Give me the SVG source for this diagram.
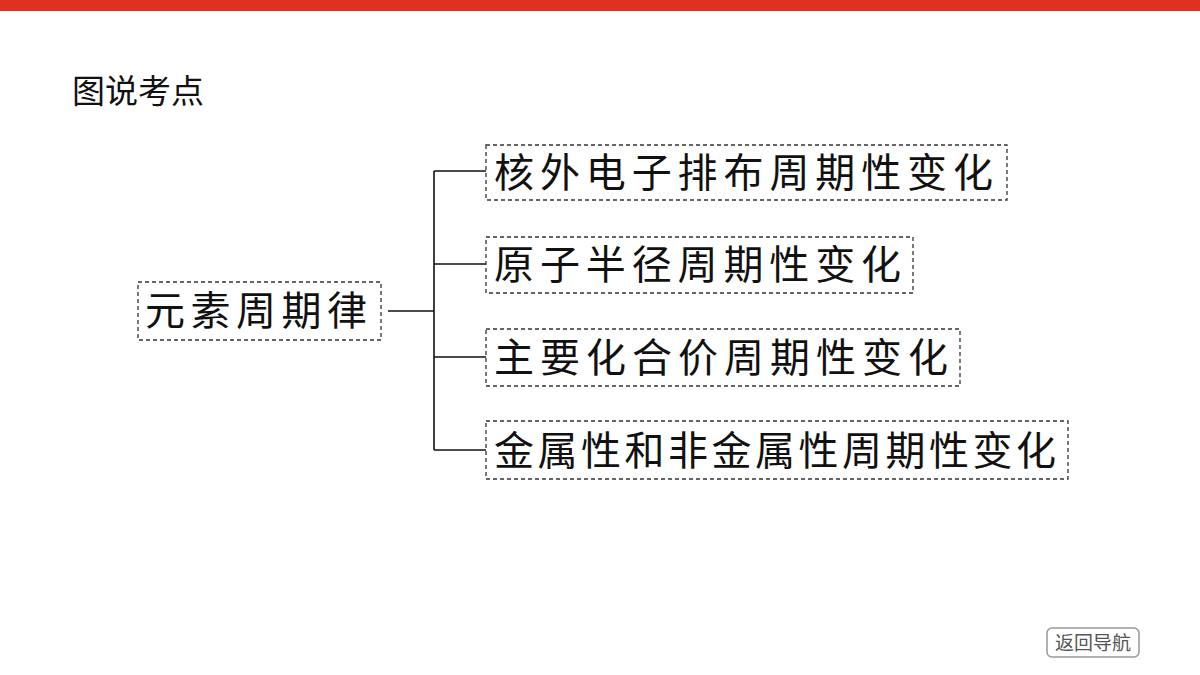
<svg xmlns="http://www.w3.org/2000/svg" width="1200" height="675" viewBox="0 0 1200 675">
<style>
.b{fill:#fff;stroke:#333;stroke-width:1.3;stroke-dasharray:4 3}
.t{font-family:"Noto Sans CJK SC","Noto Sans",sans-serif;font-size:40px;letter-spacing:6px;fill:#111}
.c{stroke:#111;stroke-width:1.6;fill:none}
</style>
<rect x="0" y="0" width="1200" height="675" fill="#fff"/>
<rect x="0" y="0" width="1200" height="11" fill="#e0301e"/>
<text x="72" y="103" font-family="Noto Sans CJK SC,sans-serif" font-size="33" fill="#111">图说考点</text>
<g id="connectors">
<path class="c" d="M388 311H434M434 171V450M434 171H486M434 264H486M434 357H486M434 450H486"/>
</g>
<g id="n0"><rect class="b" x="138" y="282" width="243" height="58"/><text class="t" x="145" y="325" textLength="228" lengthAdjust="spacing">元素周期律</text></g>
<g id="n1"><rect class="b" x="486" y="145" width="521" height="55"/><text class="t" x="494" y="187" textLength="505" lengthAdjust="spacing">核外电子排布周期性变化</text></g>
<g id="n2"><rect class="b" x="486" y="237" width="427" height="56"/><text class="t" x="494" y="279" textLength="413" lengthAdjust="spacing">原子半径周期性变化</text></g>
<g id="n3"><rect class="b" x="486" y="329" width="474" height="57"/><text class="t" x="494" y="372" textLength="460" lengthAdjust="spacing">主要化合价周期性变化</text></g>
<g id="n4"><rect class="b" x="486" y="421" width="582" height="58"/><text class="t" x="494" y="465" textLength="568" lengthAdjust="spacing">金属性和非金属性周期性变化</text></g>
<g id="nav"><rect x="1047" y="628" width="92" height="29" rx="5" fill="#fff" stroke="#999" stroke-width="1.5"/><text x="1093" y="650" text-anchor="middle" font-family="Noto Sans CJK SC,sans-serif" font-size="19" fill="#555">返回导航</text></g>
</svg>
